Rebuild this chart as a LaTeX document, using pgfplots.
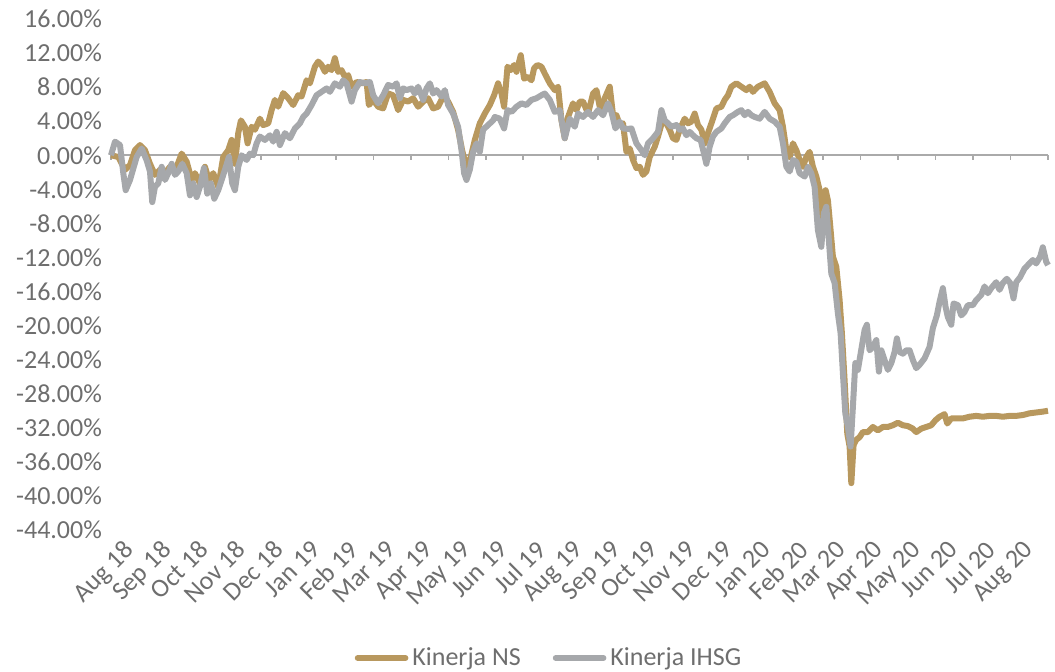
\documentclass[border=0pt]{standalone}
\usepackage{pgfplots}
\usepackage{pgfplotstable}
\pgfplotsset{compat=1.18}
\usepackage{fontspec}
\setmainfont{Carlito}
\definecolor{nsgold}{RGB}{184,152,94}
\definecolor{ihsggray}{RGB}{166,168,171}
\definecolor{txtgray}{RGB}{110,110,110}
\definecolor{axgray}{RGB}{170,170,170}

\pgfplotstableread{
m v
0 0
0.195 -0.2
0.373 -1.7
0.507 -1.15
0.64 0.6
0.773 1.2
0.907 0.6
1.04 -1.0
1.173 -2.3
1.307 -1.7
1.44 -2.1
1.573 -1.35
1.707 -1.9
1.885 0.2
2.019 -0.75
2.152 -2.9
2.24 -2.1
2.373 -3.3
2.507 -1.35
2.613 -2.9
2.728 -2.1
2.861 -3.7
2.995 -0.2
3.128 0.6
3.219 1.8
3.307 -1.0
3.395 2.6
3.467 4.1
3.573 3.35
3.645 1.4
3.752 3.35
3.84 3.0
3.973 4.3
4.061 3.55
4.195 3.75
4.285 5.3
4.373 6.5
4.461 5.7
4.595 7.3
4.728 6.7
4.861 5.9
4.995 7.05
5.085 6.9
5.219 8.8
5.307 8.45
5.44 10.4
5.528 11.0
5.619 10.6
5.707 9.8
5.795 10.4
5.885 10.0
5.973 11.4
6.061 9.8
6.152 10.0
6.24 9.2
6.328 9.4
6.419 8.05
6.552 8.6
6.685 8.45
6.819 8.6
6.88 5.9
6.995 6.5
7.128 5.7
7.261 5.5
7.395 7.25
7.528 7.05
7.661 5.3
7.795 6.5
7.928 6.3
8.061 6.7
8.195 5.7
8.328 6.3
8.461 6.7
8.595 5.5
8.728 5.7
8.861 6.9
8.995 6.3
9.128 5.1
9.261 3.0
9.368 0.6
9.485 -1.5
9.6 -0.2
9.707 1.8
9.84 3.75
9.973 4.9
10.107 5.9
10.221 7.05
10.328 8.45
10.419 7.25
10.488 5.7
10.579 10.4
10.667 10.0
10.755 10.6
10.819 9.8
10.933 11.75
11.021 9.0
11.128 9.2
11.219 8.8
11.288 10.2
11.379 10.6
11.485 10.4
11.573 9.6
11.707 8.45
11.84 7.65
11.928 8.05
12.019 4.1
12.107 2.0
12.195 4.5
12.328 6.1
12.419 5.3
12.507 6.3
12.595 6.3
12.728 4.9
12.861 7.25
12.952 7.65
13.067 5.1
13.173 6.7
13.307 8.05
13.395 4.7
13.485 4.7
13.573 3.55
13.661 3.75
13.752 0.4
13.84 0.8
13.928 -0.55
14.019 -1.5
14.107 -1.35
14.195 -2.3
14.285 -1.9
14.373 -0.2
14.507 1.0
14.595 2.2
14.728 4.3
14.819 3.75
14.907 3.0
14.995 2.0
15.085 1.8
15.173 3.0
15.307 4.3
15.395 3.75
15.485 3.95
15.573 4.9
15.661 3.55
15.752 3.0
15.84 1.4
15.928 2.6
16.019 3.75
16.152 5.5
16.285 5.7
16.373 6.5
16.461 7.05
16.552 8.05
16.685 8.45
16.819 8.05
16.952 7.65
17.04 8.05
17.128 7.45
17.261 8.05
17.44 8.45
17.573 7.45
17.707 6.1
17.84 5.3
17.928 3.35
18.019 0.6
18.107 -0.2
18.195 1.4
18.285 0.6
18.373 -0.55
18.461 -1.35
18.552 -0.2
18.64 0.4
18.728 -1.35
18.819 -2.5
18.907 -4.1
18.995 -8.4
19.067 -4.1
19.128 -5.3
19.2 -8.8
19.261 -11.9
19.352 -13.1
19.44 -17.0
19.501 -20.9
19.573 -26.4
19.645 -32.7
19.707 -34.2
19.752 -38.5
19.813 -34.0
19.885 -33.4
19.973 -33.1
20.061 -32.5
20.195 -32.5
20.328 -31.9
20.461 -32.3
20.595 -31.9
20.728 -31.9
20.861 -31.7
20.995 -31.4
21.128 -31.7
21.261 -31.8
21.395 -32.1
21.485 -32.5
21.619 -32.1
21.752 -31.9
21.885 -31.7
22.0 -31.1
22.107 -30.7
22.24 -30.4
22.312 -31.5
22.419 -30.9
22.552 -30.9
22.728 -30.9
22.907 -30.7
23.085 -30.6
23.261 -30.7
23.44 -30.6
23.619 -30.6
23.795 -30.7
23.973 -30.6
24.152 -30.6
24.328 -30.5
24.507 -30.3
24.685 -30.2
24.861 -30.1
25.0 -30.0
}\nsdata

\pgfplotstableread{
m v
0 0
0.107 1.6
0.24 1.2
0.328 -2.1
0.392 -4.1
0.507 -2.9
0.685 -0.2
0.819 0.8
0.952 -0.6
1.04 -1.9
1.101 -5.5
1.173 -3.7
1.261 -3.3
1.352 -1.35
1.44 -2.9
1.528 -2.1
1.619 -1.0
1.707 -2.3
1.795 -1.9
1.901 -1.0
2.019 -2.1
2.107 -4.7
2.195 -3.3
2.285 -4.9
2.373 -3.7
2.48 -1.5
2.568 -4.5
2.667 -3.3
2.755 -5.1
2.861 -4.1
2.952 -2.9
3.04 -1.7
3.147 -0.2
3.235 -3.3
3.307 -4.1
3.395 -1.35
3.485 0
3.619 -0.55
3.707 0.2
3.795 0
3.885 1.4
3.973 2.2
4.107 1.8
4.24 2.35
4.328 1.6
4.419 2.75
4.507 1.2
4.64 2.6
4.773 2.0
4.907 3.15
5.04 3.75
5.128 4.5
5.219 4.9
5.352 5.9
5.485 7.05
5.619 7.45
5.752 7.85
5.84 7.45
5.973 8.45
6.107 8.05
6.195 8.8
6.285 8.45
6.419 6.3
6.507 7.65
6.64 8.6
6.773 8.45
6.907 8.6
6.995 7.05
7.128 6.1
7.261 7.05
7.395 8.25
7.528 8.05
7.619 8.45
7.707 6.7
7.795 7.85
7.885 7.65
8.019 7.85
8.107 7.25
8.195 8.05
8.328 6.5
8.419 7.85
8.507 8.45
8.595 7.25
8.685 7.65
8.819 6.9
8.907 7.65
8.995 5.9
9.128 4.9
9.261 3.35
9.352 0.6
9.421 -2.1
9.485 -2.9
9.573 -1.7
9.661 0.4
9.752 1.4
9.84 0.4
9.928 3.0
10.061 3.55
10.195 4.1
10.24 4.5
10.373 4.3
10.488 3.15
10.579 5.3
10.685 5.1
10.819 5.7
10.952 6.1
11.085 5.9
11.219 6.5
11.352 6.7
11.485 7.05
11.573 7.25
11.707 6.5
11.84 5.1
11.973 5.3
12.107 2.0
12.24 4.3
12.373 3.35
12.461 4.9
12.595 4.5
12.728 5.1
12.861 4.5
12.995 5.3
13.128 4.7
13.261 6.1
13.352 5.1
13.459 3.15
13.573 3.95
13.661 3.15
13.795 3.1
13.885 3.15
14.019 1.4
14.152 0.6
14.24 0
14.328 1.4
14.461 2.0
14.595 2.75
14.685 5.3
14.773 4.1
14.861 3.75
14.952 3.35
15.085 3.55
15.173 3.0
15.261 3.15
15.352 2.35
15.44 2.75
15.528 2.35
15.619 2.0
15.733 1.8
15.821 0.2
15.885 -1.0
15.973 1.0
16.061 2.2
16.152 2.75
16.285 3.15
16.373 3.75
16.507 4.5
16.595 4.7
16.728 5.1
16.819 5.3
16.907 4.7
16.995 5.1
17.085 4.7
17.173 4.5
17.307 4.3
17.44 5.1
17.573 4.3
17.707 3.95
17.84 3.35
17.928 1.4
18.019 -1.35
18.107 -1.9
18.195 -0.55
18.285 -0.75
18.373 -2.1
18.507 -2.5
18.595 -1.35
18.685 -2.1
18.773 -3.7
18.861 -8.8
18.952 -10.75
19.021 -6.8
19.085 -6.05
19.147 -9.6
19.219 -13.9
19.307 -15.0
19.395 -18.6
19.467 -20.9
19.528 -25.6
19.592 -30.3
19.661 -31.9
19.733 -34.2
19.795 -29.5
19.859 -24.4
19.928 -25.2
20.0 -23.3
20.107 -20.5
20.168 -19.9
20.24 -22.9
20.328 -22.5
20.419 -21.7
20.488 -25.4
20.552 -22.9
20.64 -24.05
20.728 -25.2
20.819 -24.4
20.907 -23.1
20.968 -21.5
21.04 -23.1
21.128 -23.3
21.219 -22.9
21.307 -22.9
21.395 -24.05
21.485 -25.0
21.573 -24.6
21.707 -23.85
21.84 -22.5
21.928 -20.3
22.035 -18.8
22.107 -17.2
22.195 -15.6
22.267 -17.8
22.328 -19.0
22.419 -19.9
22.48 -17.4
22.595 -17.6
22.685 -18.8
22.773 -18.4
22.861 -17.6
22.995 -17.6
23.085 -17.0
23.219 -16.4
23.307 -15.4
23.395 -16.2
23.485 -15.6
23.619 -14.9
23.707 -15.8
23.795 -15.0
23.901 -14.5
23.992 -15.0
24.08 -16.8
24.152 -14.9
24.259 -14.3
24.373 -13.3
24.507 -12.7
24.595 -12.3
24.685 -12.7
24.792 -11.9
24.861 -10.8
24.952 -12.5
25.0 -12.9
}\ihsgdata

\begin{document}
\begin{tikzpicture}
\path[use as bounding box] (-55.5pt,-70.5pt) rectangle (472pt,265pt);
\begin{axis}[
  at={(0pt,0pt)}, anchor=south west,
  scale only axis,
  width=468.5pt, height=255.5pt,
  xmin=0, xmax=25,
  ymin=-44, ymax=16,
  axis line style={draw=none},
  major tick length=0pt,
  ytick={-44,-40,...,16},
  yticklabels={-44.00\%,-40.00\%,-36.00\%,-32.00\%,-28.00\%,-24.00\%,-20.00\%,-16.00\%,-12.00\%,-8.00\%,-4.00\%,0.00\%,4.00\%,8.00\%,12.00\%,16.00\%},
  xtick={0,...,24},
  xticklabels={Aug 18,Sep 18,Oct 18,Nov 18,Dec 18,Jan 19,Feb 19,Mar 19,Apr 19,May 19,Jun 19,Jul 19,Aug 19,Sep 19,Oct 19,Nov 19,Dec 19,Jan 20,Feb 20,Mar 20,Apr 20,May 20,Jun 20,Jul 20,Aug 20},
  ticklabel style={font=\fontsize{13}{15}\selectfont, text=txtgray},
  xticklabel style={rotate=45, anchor=north east, yshift=-6pt, xshift=2pt, inner sep=1pt},
  yticklabel style={xshift=-1pt},
  clip=false,
  legend style={at={(0.4685,-0.2505)}, anchor=center, draw=none, fill=none,
    legend columns=2, font=\fontsize{13}{15}\selectfont, text=txtgray,
    /tikz/every even column/.append style={column sep=14pt},
    inner sep=0pt},
  legend image code/.code={\draw[#1, line width=2.8pt, line cap=round] (0pt,0pt) -- (24pt,0pt);},
]
\draw[axgray, line width=0.8pt] (axis cs:0,0) -- (axis cs:25,0);
\pgfplotsinvokeforeach{0,...,25}{
  \draw[axgray, line width=0.8pt] (axis cs:#1,0) -- ([yshift=-2.5pt]axis cs:#1,0);
}
\addplot[nsgold, line width=3pt, line join=round, no markers] table[x=m,y=v] {\nsdata};
\addlegendentry{Kinerja NS}
\addplot[ihsggray, line width=3pt, line join=round, no markers] table[x=m,y=v] {\ihsgdata};
\addlegendentry{Kinerja IHSG}
\end{axis}
\end{tikzpicture}
\end{document}
